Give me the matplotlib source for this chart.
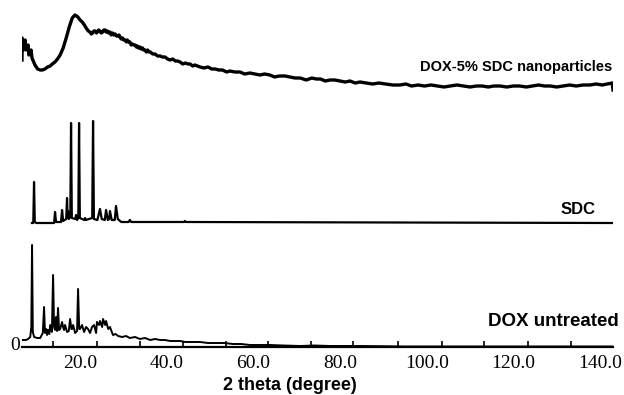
import matplotlib
matplotlib.use("Agg")
import matplotlib.pyplot as plt
from matplotlib.ticker import FixedLocator

# ---- data (2 theta in degrees, intensity in arbitrary units) ----
dox_x = [6.6, 7.5, 8.0, 8.5, 8.75, 8.92, 9.1, 9.4, 10.1, 10.8, 11.4, 11.69, 11.9, 12.2,
         12.4, 12.6, 12.9, 13.1, 13.5, 13.77, 14.0, 14.23, 14.46, 14.7, 14.92, 15.15,
         15.4, 15.85, 16.08, 16.3, 16.54, 17.0, 17.4, 17.7, 18.0, 18.15, 18.4, 18.85,
         19.3, 19.54, 19.8, 20.0, 20.46, 20.92, 21.4, 21.85, 22.3, 22.77, 23.23, 23.7,
         23.9, 24.4, 24.6, 25.1, 25.3, 25.8, 26.0, 26.5, 26.9, 27.6, 28.2, 28.8, 29.7,
         30.6, 31.5, 32.7, 33.8, 35.0, 36.2, 37.3, 38.5, 39.6, 40.8, 42.0, 43.1, 44.3,
         45.4, 46.5, 47.7, 49.5, 51.2, 53.2, 55.3, 57.2, 59.2, 61.5, 63.8, 67.0, 70.8,
         74.0, 77.7, 85.0, 95.0, 110.0, 125.0, 143.0]
dox_y = [7, 7, 8, 10, 20, 102, 15, 10, 9, 9, 14, 40, 14, 18, 12, 17, 13, 22, 15, 72,
         20, 17, 30, 16, 39, 17, 18, 25, 20, 17, 22, 15, 16, 28, 18, 18, 22, 14, 16, 58,
         18, 18, 22, 15, 20, 18, 14, 20, 22, 14, 25, 22, 26, 20, 28, 22, 26, 18, 20, 12,
         13, 11, 10, 11, 9, 10, 8, 9, 7, 8, 7, 7, 6, 6, 6, 5, 5, 5, 5, 4, 4, 4, 3, 3, 2,
         2, 2, 1.5, 1, 1.5, 1, 1, 0.5, 0.5, 0.5, 0.5]

sdc_x = [8.9, 9.2, 9.38, 9.55, 9.9, 14.0, 14.23, 14.45, 15.6, 15.85, 16.1, 16.8, 17.0,
         17.12, 17.23, 17.4, 17.75, 17.92, 18.1, 18.9, 19.08, 19.3, 19.6, 19.77, 19.95,
         21.0, 21.15, 21.3, 22.8, 23.0, 23.2, 24.0, 24.6, 25.0, 25.7, 26.0, 26.4, 26.7,
         26.9, 27.3, 28.0, 28.3, 28.7, 29.5, 31.2, 31.5, 31.8, 44.0, 44.2, 44.4, 143.0]
sdc_y = [0, 0, 41, 1, 0, 0, 11, 1, 1, 13, 2, 4, 25, 5, 12, 4, 6, 100, 5, 4, 8, 3, 5,
         100, 5, 3, 5, 3, 5, 102, 4, 3, 14, 4, 3, 13, 3, 4, 12, 3, 3, 17, 4, 1, 1, 3, 1,
         1, 2, 1, 0]

# (2 theta, intensity) pairs for the nanoparticle pattern
nano_points = [
    (6.6, 37), (6.62, 59), (6.85, 47), (7.3, 52), (7.32, 57), (7.5, 47), (8.0, 52),
    (8.2, 42), (8.7, 47), (8.9, 39), (9.6, 32), (10.2, 28), (10.8, 27), (11.3, 27),
    (11.9, 28), (12.5, 30), (13.1, 31), (13.6, 33), (14.2, 35), (14.8, 38), (15.4, 42),
    (16.1, 49), (16.8, 59), (17.5, 70), (18.2, 79), (18.8, 82), (19.5, 80), (20.0, 77),
    (20.5, 75), (21.0, 72), (21.4, 69), (21.9, 66), (22.3, 65), (22.6, 63), (22.9, 64),
    (23.2, 66), (23.5, 66), (23.8, 64), (24.0, 65), (24.3, 67), (24.6, 66), (24.9, 64),
    (25.2, 65), (25.5, 67), (25.8, 67), (26.0, 65), (26.3, 66), (26.6, 64), (26.9, 65),
    (27.2, 62), (27.5, 64), (27.8, 62), (28.1, 63), (28.4, 61), (28.7, 61), (29.0, 62),
    (29.2, 60), (29.5, 58), (29.8, 59), (30.1, 57), (30.4, 57), (30.7, 55), (30.9, 57),
    (31.2, 55), (31.5, 55), (31.8, 52), (32.1, 53), (32.4, 52), (32.7, 52), (33.0, 50),
    (33.2, 51), (33.5, 49), (33.8, 50), (34.1, 48), (34.4, 49), (34.7, 47), (35.0, 47),
    (35.3, 45), (35.6, 47), (35.9, 45), (36.2, 45), (36.8, 43), (37.3, 43), (37.9, 41),
    (38.5, 41), (39.0, 40), (39.6, 40), (40.2, 38), (40.8, 37), (41.4, 38), (42.0, 36),
    (42.5, 36), (43.1, 35), (43.7, 33), (44.3, 34), (44.9, 33), (45.4, 33), (46.0, 31),
    (46.5, 32), (47.1, 31), (47.7, 30), (48.6, 29), (49.5, 30), (50.4, 28), (51.2, 28),
    (52.0, 27), (52.9, 27), (53.8, 25), (54.6, 26), (55.7, 25), (56.9, 25), (58.0, 23),
    (59.2, 24), (60.3, 23), (61.5, 22), (62.6, 23), (63.8, 22), (64.9, 20), (66.0, 21),
    (67.3, 21), (68.5, 20), (69.6, 19), (70.8, 19), (72.2, 17), (73.5, 19), (74.5, 18),
    (75.5, 18), (76.6, 16), (77.7, 17), (78.8, 17), (80.0, 16), (81.2, 15), (82.3, 16),
    (83.5, 14), (84.6, 15), (86.0, 14), (87.5, 13), (89.0, 14), (90.5, 13), (92.2, 12),
    (93.8, 12), (95.2, 13), (96.5, 11), (98.0, 12), (99.5, 11), (101.0, 12), (102.5, 11),
    (104.0, 10), (105.4, 11), (107.0, 12), (108.5, 11), (110.0, 10), (111.5, 11),
    (112.8, 11), (114.2, 10), (115.5, 11), (116.9, 11), (118.5, 10), (120.0, 11),
    (121.5, 11), (123.0, 10), (124.4, 11), (125.8, 12), (127.2, 11), (128.5, 11),
    (130.0, 10), (131.5, 11), (133.0, 12), (134.5, 11), (136.1, 12), (137.7, 12),
    (139.1, 13), (140.5, 12), (141.6, 13), (142.8, 14), (143.0, 7),
]
nano_x = [p[0] for p in nano_points]
nano_y = [p[1] for p in nano_points]

series_labels = ["DOX untreated", "SDC", "DOX-5% SDC nanoparticles"]
tick_values = [20, 40, 60, 80, 100, 120, 140]
tick_labels = ["20.0", "40.0", "60.0", "80.0", "100.0", "120.0", "140.0"]
minor_ticks = [13.8, 23.9, 33.8, 43.7, 53.7, 63.4, 73.3, 83.0, 93.4, 103.5, 113.2,
               123.4, 133.3]
x_label = "2 theta (degree)"

# ---- layout ----
W, H = 624, 395
fig = plt.figure(figsize=(W / 100, H / 100), dpi=100)
ax = fig.add_axes([22 / W, (H - 347) / H, (613 - 22) / W, 347 / H])

offsets = [0, 124, 250]
ax.plot(dox_x, [v + offsets[0] for v in dox_y], color="black", lw=1.4)
ax.plot(sdc_x, [v + offsets[1] for v in sdc_y], color="black", lw=1.6)
ax.plot(nano_x, [v + offsets[2] for v in nano_y], color="black", lw=2.4)

ax.set_xlim(6.6, 143.0)
ax.set_ylim(0, 347)
for s in ["top", "right", "left"]:
    ax.spines[s].set_visible(False)
ax.spines["bottom"].set_linewidth(1.6)
ax.set_yticks([])
ax.set_xticks(tick_values)
ax.set_xticklabels(tick_labels, fontfamily="Liberation Serif", fontsize=14)
ax.tick_params(axis="x", which="major", length=0, pad=6)
ax.xaxis.set_minor_locator(FixedLocator(minor_ticks))
ax.tick_params(axis="x", which="minor", direction="in", length=4, width=1.2)

fig.text(290 / W, 1 - 386 / H, x_label, fontfamily="Liberation Sans",
         fontweight="bold", fontsize=13, ha="center", va="center")

fig.text(15 / W, 1 - 346 / H, "0", fontfamily="Liberation Serif", fontsize=14,
         ha="center", va="center")

label_pos = [(553, 321), (578, 209), (516, 67)]
label_sizes = [13.5, 12, 10.5]
for lab, (px, py), fs in zip(series_labels, label_pos, label_sizes):
    fig.text(px / W, 1 - py / H, lab, fontfamily="Liberation Sans", fontweight="bold",
             fontsize=fs, ha="center", va="center")

fig.savefig("out.png", dpi=100)
